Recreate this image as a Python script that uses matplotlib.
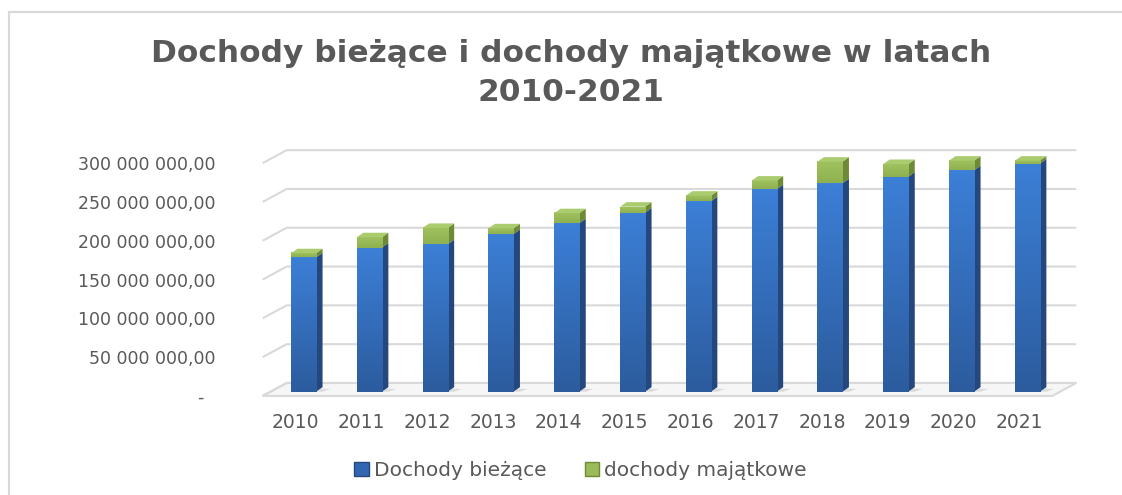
import numpy as np
import matplotlib.pyplot as plt
from matplotlib.patches import Polygon, Patch
from matplotlib.colors import LinearSegmentedColormap
from matplotlib.lines import Line2D

years = [str(y) for y in range(2010, 2022)]
biezace = [173.0e6, 185.6e6, 190.0e6, 203.0e6, 217.0e6, 230.7e6,
           245.3e6, 260.8e6, 268.6e6, 277.0e6, 285.3e6, 293.8e6]
majatkowe = [5.4e6, 13.4e6, 21.0e6, 7.5e6, 13.0e6, 7.7e6,
             7.3e6, 11.2e6, 27.8e6, 16.4e6, 12.4e6, 3.9e6]
yticks = np.arange(0, 300e6 + 1, 50e6)

grey = "#595959"
grid_c = "#d9d9d9"

# fake 3d: depth offsets in data units
px_x = 1 / 65.8
px_y = 1 / 0.776e-6
bar_w = 25 * px_x
ddx, ddy = 6.5 * px_x, 4.5 * px_y       # bar depth
fdx, fdy = -8 * px_x, -4.3 * px_y       # floor front edge
bdx, bdy = 16 * px_x, 8.7 * px_y        # back wall

blue = dict(lo="#2c5c9e", hi="#3c7fd6", side="#24487d", top="#4a8ad8")
green = dict(lo="#8fb050", hi="#9fc25e", side="#6f8a37", top="#aacc6e")

fig = plt.figure(figsize=(11.22, 4.95), dpi=100)
ax = fig.add_axes([0.2119, 0.1774, 0.7624, 0.5487])
for s in ax.spines.values():
    s.set_visible(False)
ax.patch.set_visible(False)

# floor + back wall grid
x0, x1 = -0.5, len(years) - 0.5
ax.add_patch(Polygon([(x0 + fdx, fdy), (x1 + fdx, fdy), (x1 + bdx, bdy), (x0 + bdx, bdy)],
                     closed=True, fc="#f6f6f6", ec=grid_c, lw=1.5, zorder=1))
for v in yticks:
    ax.plot([x0 + fdx, x0 + bdx, x1 + bdx], [v + fdy, v + bdy, v + bdy],
            color=grid_c, lw=1.5, zorder=1, solid_capstyle="butt")


def seg(i, y0, h, c):
    xl, xr = i - bar_w / 2, i + bar_w / 2
    y1 = y0 + h
    ax.add_patch(Polygon([(xr, y0), (xr + ddx, y0 + ddy), (xr + ddx, y1 + ddy), (xr, y1)],
                         closed=True, fc=c["side"], ec="none", zorder=3))
    cmap = LinearSegmentedColormap.from_list("g", [c["lo"], c["hi"]])
    ax.imshow(np.linspace(0, 1, 50).reshape(-1, 1), extent=[xl, xr, y0, y1], origin="lower",
              aspect="auto", cmap=cmap, zorder=3, interpolation="bilinear")
    ax.add_patch(Polygon([(xl, y1), (xr, y1), (xr + ddx, y1 + ddy), (xl + ddx, y1 + ddy)],
                         closed=True, fc=c["top"], ec="none", zorder=3))


for i in range(len(years)):
    # soft shadow on the floor
    ax.add_patch(Polygon([(i - bar_w / 2, 0), (i + bar_w / 2 + ddx, 0),
                          (i + bar_w / 2 + 2.2 * ddx, 0.6 * ddy), (i - bar_w / 2 + ddx, 0.8 * ddy)],
                         closed=True, fc="#c8c8c8", ec="none", alpha=0.6, zorder=2))
    seg(i, 0, biezace[i], blue)
    seg(i, biezace[i], majatkowe[i], green)

ax.set_xlim(-1, 12)
ax.set_ylim(-20e6, 330e6)


def fmt(v):
    if v == 0:
        return "-  "
    return f"{v:,.2f}".replace(",", " ").replace(".", ",")


ax.set_xticks(np.arange(len(years)) + fdx, years)
ax.set_yticks(yticks + fdy, [fmt(v) for v in yticks])
ax.tick_params(axis="x", length=0, pad=4.3, labelsize=13.5, labelcolor=grey)
ax.tick_params(axis="y", length=0, pad=16.3, labelsize=12.5, labelcolor=grey)

fig.text(0.509, 0.852, "Dochody bieżące i dochody majątkowe w latach\n2010-2021",
         ha="center", va="center", fontsize=22.5, fontweight="bold", color=grey, linespacing=1.45)

handles = [Patch(fc="#3366b0", ec="#24487d", label="Dochody bieżące"),
           Patch(fc="#9bbb59", ec="#6f8a37", label="dochody majątkowe")]
leg = fig.legend(handles=handles, loc="center", bbox_to_anchor=(0.5175, 0.049), ncol=2,
                 frameon=False, fontsize=14.5, handlelength=0.72, handleheight=0.72,
                 handletextpad=0.25, columnspacing=1.9)
for t in leg.get_texts():
    t.set_color(grey)

# chart border
fig.add_artist(Line2D([9 / 1122, 9 / 1122], [0, 1 - 12 / 495], color=grid_c, lw=1.5,
                      transform=fig.transFigure))
fig.add_artist(Line2D([9 / 1122, 1], [1 - 12 / 495, 1 - 12 / 495], color=grid_c, lw=1.5,
                      transform=fig.transFigure))

fig.savefig("out.png", dpi=100)
